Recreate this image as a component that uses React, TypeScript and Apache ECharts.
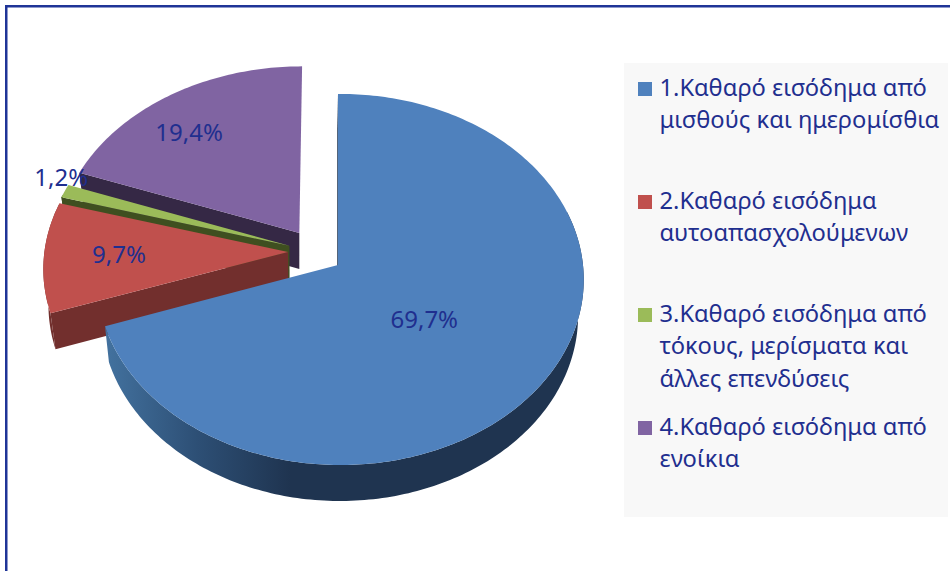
import React, { useEffect, useRef } from "react";
import * as echarts from "echarts";

const categories = [
  "1.Καθαρό εισόδημα από μισθούς και ημερομίσθια",
  "2.Καθαρό εισόδημα αυτοαπασχολούμενων",
  "3.Καθαρό εισόδημα από τόκους, μερίσματα και άλλες επενδύσεις",
  "4.Καθαρό εισόδημα από ενοίκια",
];
const legendLines = [
  ["1.Καθαρό εισόδημα από", "μισθούς και ημερομίσθια"],
  ["2.Καθαρό εισόδημα", "αυτοαπασχολούμενων"],
  ["3.Καθαρό εισόδημα από", "τόκους, μερίσματα και", "άλλες επενδύσεις"],
  ["4.Καθαρό εισόδημα από", "ενοίκια"],
];
const values = [69.7, 9.7, 1.2, 19.4];
const valueLabels = ["69,7%", "9,7%", "1,2%", "19,4%"];

const topColors = ["#4f81bd", "#c0504d", "#9bbb59", "#8064a2"];
const sideColors = ["#1f3450", "#722f2d", "#3f4f20", "#352845"];
// exploded offset of each slice in the pie's own plane
const explodeU = [0, -0.205, -0.2, -0.16];
const explodeV = [0, 0.071, 0.105, 0.176];
const labelRadius = [0.452, 0.693, 1.047, 0.759];
const labelShift = [4.5, 0.35, 3.65, -4.7];
const widthScale = [0.99, 1, 1, 1];
const sideSkew = [-0.01, 0, 0, 0];
const drawOrder = [3, 2, 1, 0];

const CX = 338, CY = 265, RX = 245, RY = 184.4, PERSP = 0.078, DEPTH = 36, SHRINK = 0.98, SHRINK_X = 300;
const TEXT = "#1f2f8f";
const BORDER = "#1f3497";
const FONT = '"Noto Sans", sans-serif';

const total = values.reduce((a, b) => a + b, 0);
function sliceRange(i: number) {
  let s = 0;
  for (let k = 0; k < i; k++) s += values[k];
  return [(s / total) * 360, ((s + values[i]) / total) * 360];
}
function project(i: number, deg: number, r: number) {
  const a = (deg * Math.PI) / 180;
  const u = explodeU[i] + r * Math.sin(a);
  const v = explodeV[i] + r * Math.cos(a);
  const w = 1 + PERSP * v + sideSkew[i] * u;
  return [CX + (RX * widthScale[i] * u) / w, CY - (RY * v) / w];
}
const lower = (p: number[]) => [SHRINK_X + (p[0] - SHRINK_X) * SHRINK, p[1] + DEPTH];

function renderSlice(params: any, api: any) {
  const i = api.value(0);
  const [a0, a1] = sliceRange(i);
  const arc: number[][] = [];
  const steps = Math.max(4, Math.ceil(a1 - a0));
  const angles: number[] = [];
  for (let k = 0; k <= steps; k++) angles.push(a0 + ((a1 - a0) * k) / steps);
  angles.forEach((d) => arc.push(project(i, d, 1)));
  const apex = project(i, 0, 0);
  const children: any[] = [];
  // start-edge cut face
  children.push({
    type: "polygon",
    shape: { points: [apex, arc[0], lower(arc[0]), lower(apex)] },
    style: { fill: sideColors[i] },
  });
  // outer rim, only where it faces the viewer
  const rim = angles
    .filter((d) => Math.cos((d * Math.PI) / 180) < 0.3)
    .map((d) => project(i, d, 1));
  if (rim.length > 1) {
    const fill =
      i === 0
        ? new echarts.graphic.LinearGradient(
            105, 0, 290, 0,
            [
              { offset: 0, color: "#43729f" },
              { offset: 0.5, color: "#2d4f75" },
              { offset: 1, color: sideColors[0] },
            ],
            true
          )
        : sideColors[i];
    children.push({
      type: "polygon",
      shape: { points: [...rim, ...rim.slice().reverse().map(lower)] },
      style: { fill },
    });
  }
  // top face
  children.push({
    type: "polygon",
    shape: { points: [apex, ...arc] },
    style: { fill: topColors[i] },
  });
  return { type: "group", children };
}

function renderLabel(params: any, api: any) {
  const i = api.value(0);
  const [a0, a1] = sliceRange(i);
  const p = project(i, (a0 + a1) / 2 + labelShift[i], labelRadius[i]);
  return {
    type: "text",
    x: p[0],
    y: p[1] - 1,
    style: {
      text: valueLabels[i],
      fill: TEXT,
      font: `24px ${FONT}`,
      align: "center",
      verticalAlign: "middle",
    },
  };
}

export default function App() {
  const ref = useRef<HTMLDivElement>(null);
  useEffect(() => {
    document.body.style.margin = "0";
    const chart = echarts.init(ref.current!, null, { renderer: "svg" });
    const legendGraphics: any[] = [];
    legendLines.forEach((lines, i) => {
      const top = 82 + 113 * i;
      legendGraphics.push({
        type: "rect",
        shape: { x: 638, y: top, width: 14, height: 14 },
        style: { fill: topColors[i] },
      });
      lines.forEach((line, j) => {
        legendGraphics.push({
          type: "text",
          x: 659.5,
          y: top + 4.5 + j * 32.5,
          style: {
            text: line,
            fill: TEXT,
            font: `23.7px ${FONT}`,
            align: "left",
            verticalAlign: "middle",
          },
        });
      });
    });
    const data = drawOrder.map((i) => ({ name: categories[i], value: [i, values[i]] }));
    chart.setOption({
      animation: false,
      backgroundColor: "#ffffff",
      graphic: [
        { type: "rect", z: 0, shape: { x: 5, y: 5, width: 945, height: 2.5 }, style: { fill: BORDER } },
        { type: "rect", z: 0, shape: { x: 5, y: 5, width: 2.5, height: 566 }, style: { fill: BORDER } },
        { type: "rect", z: 0, shape: { x: 624, y: 63, width: 324, height: 454 }, style: { fill: "#f8f8f8" } },
        ...legendGraphics,
      ],
      series: [
        { type: "custom", coordinateSystem: "none", silent: true, z: 2, clip: false, renderItem: renderSlice, data },
        { type: "custom", coordinateSystem: "none", silent: true, z: 3, clip: false, renderItem: renderLabel, data },
      ],
    });
    return () => chart.dispose();
  }, []);
  return <div ref={ref} style={{ width: 950, height: 571 }} />;
}
